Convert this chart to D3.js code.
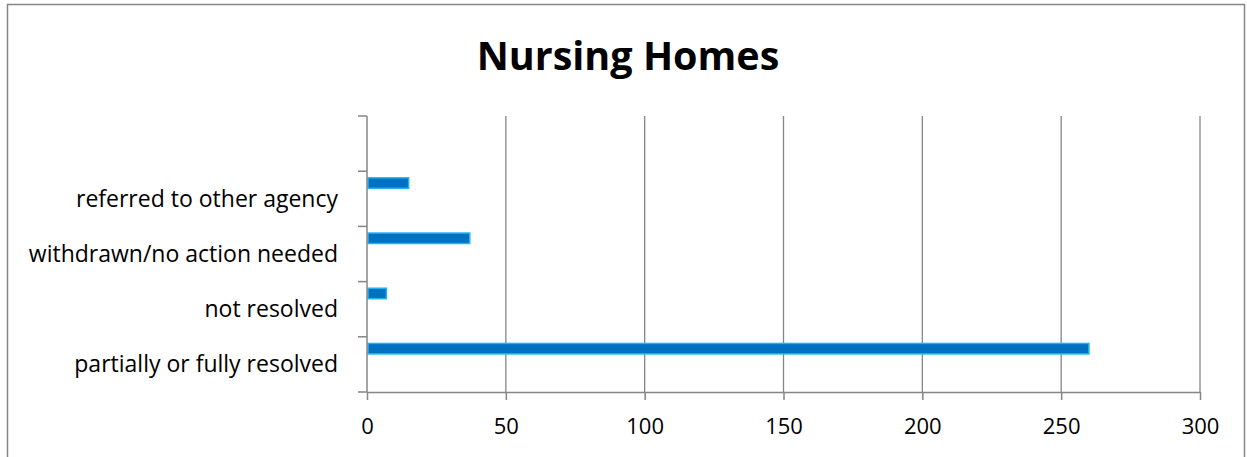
<!DOCTYPE html>
<html>
<head>
<meta charset="utf-8">
<script src="https://cdn.jsdelivr.net/npm/d3@7"></script>
<style>
  body { margin: 0; background: #fff; }
  text { font-family: "Open Sans", "Noto Sans", sans-serif; fill: #000; }
</style>
</head>
<body>
<div id="chart"></div>
<script>
// top slot of the axis is empty in the original chart
const categories = ['', 'referred to other agency', 'withdrawn/no action needed', 'not resolved', 'partially or fully resolved'];
const values = [null, 15, 37, 7, 260];
const xTicks = [0, 50, 100, 150, 200, 250, 300];

const width = 1247, height = 457;
const margin = { top: 116, right: 47, bottom: 65, left: 367 };
const innerW = width - margin.left - margin.right;
const innerH = height - margin.top - margin.bottom;

const svg = d3.select('#chart').append('svg')
  .attr('width', width)
  .attr('height', height);

// outer chart border
svg.append('rect')
  .attr('x', 7.5).attr('y', 4.5)
  .attr('width', 1237).attr('height', 500)
  .attr('fill', 'none')
  .attr('stroke', '#868686')
  .attr('stroke-width', 1.5);

svg.append('text')
  .attr('x', 628).attr('y', 70)
  .attr('text-anchor', 'middle')
  .style('font-size', '39.5px')
  .style('font-weight', 'bold')
  .text('Nursing Homes');

const g = svg.append('g').attr('transform', `translate(${margin.left},${margin.top})`);

const x = d3.scaleLinear().domain([0, 300]).range([0, innerW]);
const y = d3.scaleBand().domain(categories).range([0, innerH]);

// vertical gridlines
g.selectAll('line.grid')
  .data(xTicks.slice(1))
  .enter().append('line')
  .attr('class', 'grid')
  .attr('x1', d => x(d)).attr('x2', d => x(d))
  .attr('y1', 0).attr('y2', innerH)
  .attr('stroke', '#868686')
  .attr('stroke-width', 1.3);

// bars
const rows = categories.map((c, i) => ({ cat: c, value: values[i] })).filter(d => d.value != null);
const bw = y.bandwidth();
g.selectAll('rect.bar')
  .data(rows)
  .enter().append('rect')
  .attr('class', 'bar')
  .attr('x', x(0) + 1)
  .attr('y', d => y(d.cat) + bw * 0.12)
  .attr('width', d => x(d.value) - x(0) - 1)
  .attr('height', bw * 0.19)
  .attr('fill', '#0070C0')
  .attr('stroke', '#21B5EE')
  .attr('stroke-width', 1.5);

// y axis: ticks between categories
g.append('line')
  .attr('x1', 0).attr('x2', 0).attr('y1', 0).attr('y2', innerH)
  .attr('stroke', '#868686').attr('stroke-width', 1.5);
const bounds = categories.map(c => y(c)).concat([innerH]);
g.selectAll('line.ytick')
  .data(bounds)
  .enter().append('line')
  .attr('class', 'ytick')
  .attr('x1', -9).attr('x2', 0)
  .attr('y1', d => d).attr('y2', d => d)
  .attr('stroke', '#868686').attr('stroke-width', 1.5);
g.selectAll('text.ylabel')
  .data(categories.filter(c => c !== ''))
  .enter().append('text')
  .attr('class', 'ylabel')
  .attr('x', -29)
  .attr('y', d => y(d) + bw / 2)
  .attr('dy', '0.35em')
  .attr('text-anchor', 'end')
  .style('font-size', '23px')
  .text(d => d);

// x axis
const xAxis = d3.axisBottom(x).tickValues(xTicks).tickSize(8).tickPadding(18).tickSizeOuter(0);
const xg = g.append('g')
  .attr('transform', `translate(0,${innerH})`)
  .call(xAxis);
xg.select('.domain').attr('stroke', '#868686').attr('stroke-width', 1.5);
xg.selectAll('.tick line').attr('stroke', '#868686').attr('stroke-width', 1.5);
xg.selectAll('.tick text')
  .style('font-family', '"Open Sans", "Noto Sans", sans-serif')
  .style('font-size', '22px')
  .attr('fill', '#000');
</script>
</body>
</html>
